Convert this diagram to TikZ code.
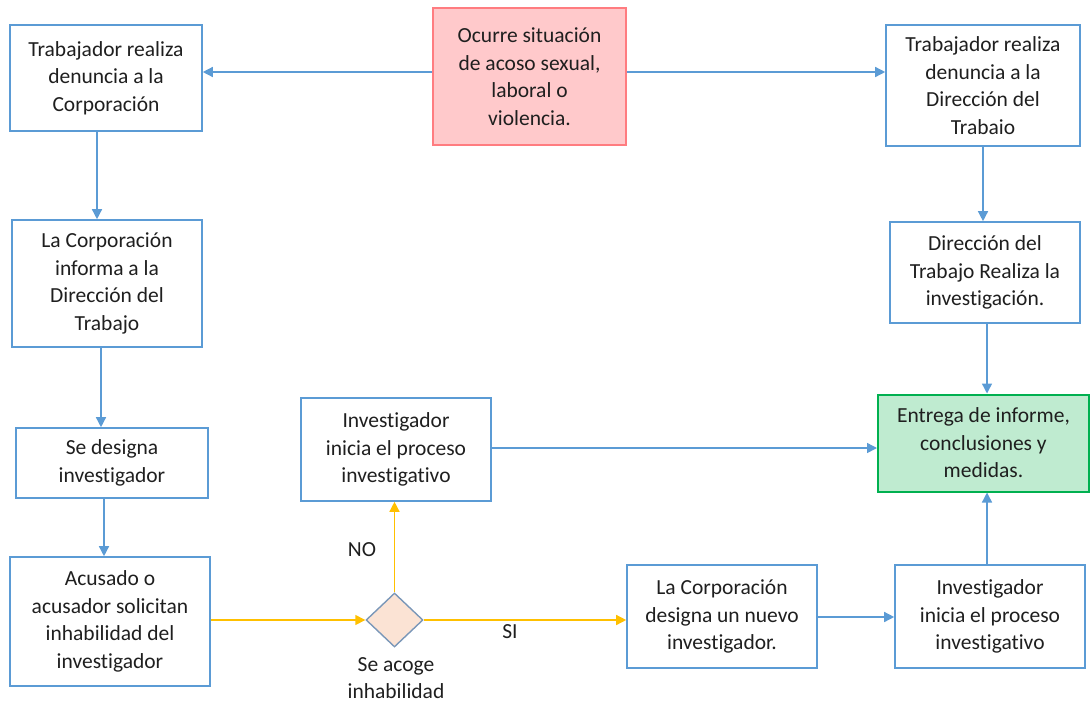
\documentclass[tikz,border=0pt]{standalone}
\usepackage{fontspec}
\setmainfont[Ligatures=NoCommon]{Carlito}
\usetikzlibrary{arrows.meta,shapes.geometric}
\definecolor{bl}{HTML}{5B9BD5}
\definecolor{yl}{HTML}{FFC000}
\definecolor{redf}{HTML}{FFC9CB}
\definecolor{redd}{HTML}{FF7C80}
\definecolor{grf}{HTML}{BFEBD0}
\definecolor{grd}{HTML}{00B050}
\definecolor{dmf}{HTML}{FBE3D4}
\definecolor{dmd}{HTML}{7A97B8}
\definecolor{txt}{HTML}{1F1F1F}
\tikzset{
  box/.style={draw=bl, line width=1.6pt, fill=white, align=center, inner sep=0pt,
    font=\fontsize{21.5}{27.5}\selectfont, text=txt},
  arr/.style={draw=bl, line width=1.4pt, -{Triangle[length=10pt,width=10pt]}},
  yarr/.style={draw=yl, line width=1.4pt, -{Triangle[length=10pt,width=10pt]}},
  lbl/.style={font=\fontsize{21.5}{27.5}\selectfont, text=txt, align=center}
}
\begin{document}
\begin{tikzpicture}[x=1pt,y=-1pt]
\useasboundingbox (0,0) rectangle (1091,707);
% boxes
\node[box, minimum width=192pt, minimum height=106pt] (a1) at (106,78) {Trabajador realiza\\denuncia a la\\Corporación};
\node[box, draw=redd, fill=redf, minimum width=193pt, minimum height=137pt] (red) at (529.5,76.5) {Ocurre situación\\de acoso sexual,\\laboral o\\violencia.};
\node[box, minimum width=194pt, minimum height=121pt] (b1) at (983,85.5) {Trabajador realiza\\denuncia a la\\Dirección del\\Trabaio};
\node[box, minimum width=190pt, minimum height=127pt] (a2) at (107,283.5) {La Corporación\\informa a la\\Dirección del\\Trabajo};
\node[box, minimum width=190pt, minimum height=101pt] (b2) at (985,272.5) {Dirección del\\Trabajo Realiza la\\investigación.};
\node[box, minimum width=192pt, minimum height=70pt] (a3) at (112,463) {Se designa\\investigador};
\node[box, minimum width=190pt, minimum height=103pt] (c) at (396,449.5) {Investigador\\inicia el proceso\\investigativo};
\node[box, draw=grd, fill=grf, line width=2pt, minimum width=211pt, minimum height=97pt] (g) at (983.5,443) {Entrega de informe,\\conclusiones y\\medidas.};
\node[box, minimum width=200pt, minimum height=129pt] (a4) at (110,621.5) {Acusado o\\acusador solicitan\\inhabilidad del\\investigador};
\node[diamond, draw=dmd, fill=dmf, line width=1.4pt, minimum width=57pt, minimum height=54pt, inner sep=0pt] (d) at (394.5,620) {};
\node[box, minimum width=190pt, minimum height=103pt] (e) at (722,616.5) {La Corporación\\designa un nuevo\\investigador.};
\node[box, minimum width=190pt, minimum height=103pt] (f) at (990,616.5) {Investigador\\inicia el proceso\\investigativo};
% labels
\node[lbl] (dl) at (396,678) {Se acoge\\inhabilidad};
\node[lbl] (no) at (362,550) {NO};
\node[lbl] (si) at (510,632) {SI};
% helper coordinates
\coordinate (yt) at (0,72);
\coordinate (xa1) at (97,0);
\coordinate (xa2) at (101,0);
\coordinate (xa3) at (104,0);
\coordinate (xb1) at (983,0);
\coordinate (xb2) at (987,0);
\coordinate (yc) at (0,448);
\coordinate (yd) at (0,620);
\coordinate (ye) at (0,617);
% connectors
\draw[arr] (red.west|-yt) -- (a1.east|-yt);
\draw[arr] (red.east|-yt) -- (b1.west|-yt);
\draw[arr] (a1.south-|xa1) -- (a2.north-|xa1);
\draw[arr] (a2.south-|xa2) -- (a3.north-|xa2);
\draw[arr] (a3.south-|xa3) -- (a4.north-|xa3);
\draw[arr] (b1.south-|xb1) -- (b2.north-|xb1);
\draw[arr] (b2.south-|xb2) -- (g.north-|xb2);
\draw[arr] (c.east|-yc) -- (g.west|-yc);
\draw[yarr] (a4.east|-yd) -- (d.west);
\draw[yarr] (d.north) -- (c.south-|d.north);
\draw[yarr] (d.east) -- (e.west|-d.east);
\draw[arr] (e.east|-ye) -- (f.west|-ye);
\draw[arr] (f.north-|xb2) -- (g.south-|xb2);
\end{tikzpicture}
\end{document}
